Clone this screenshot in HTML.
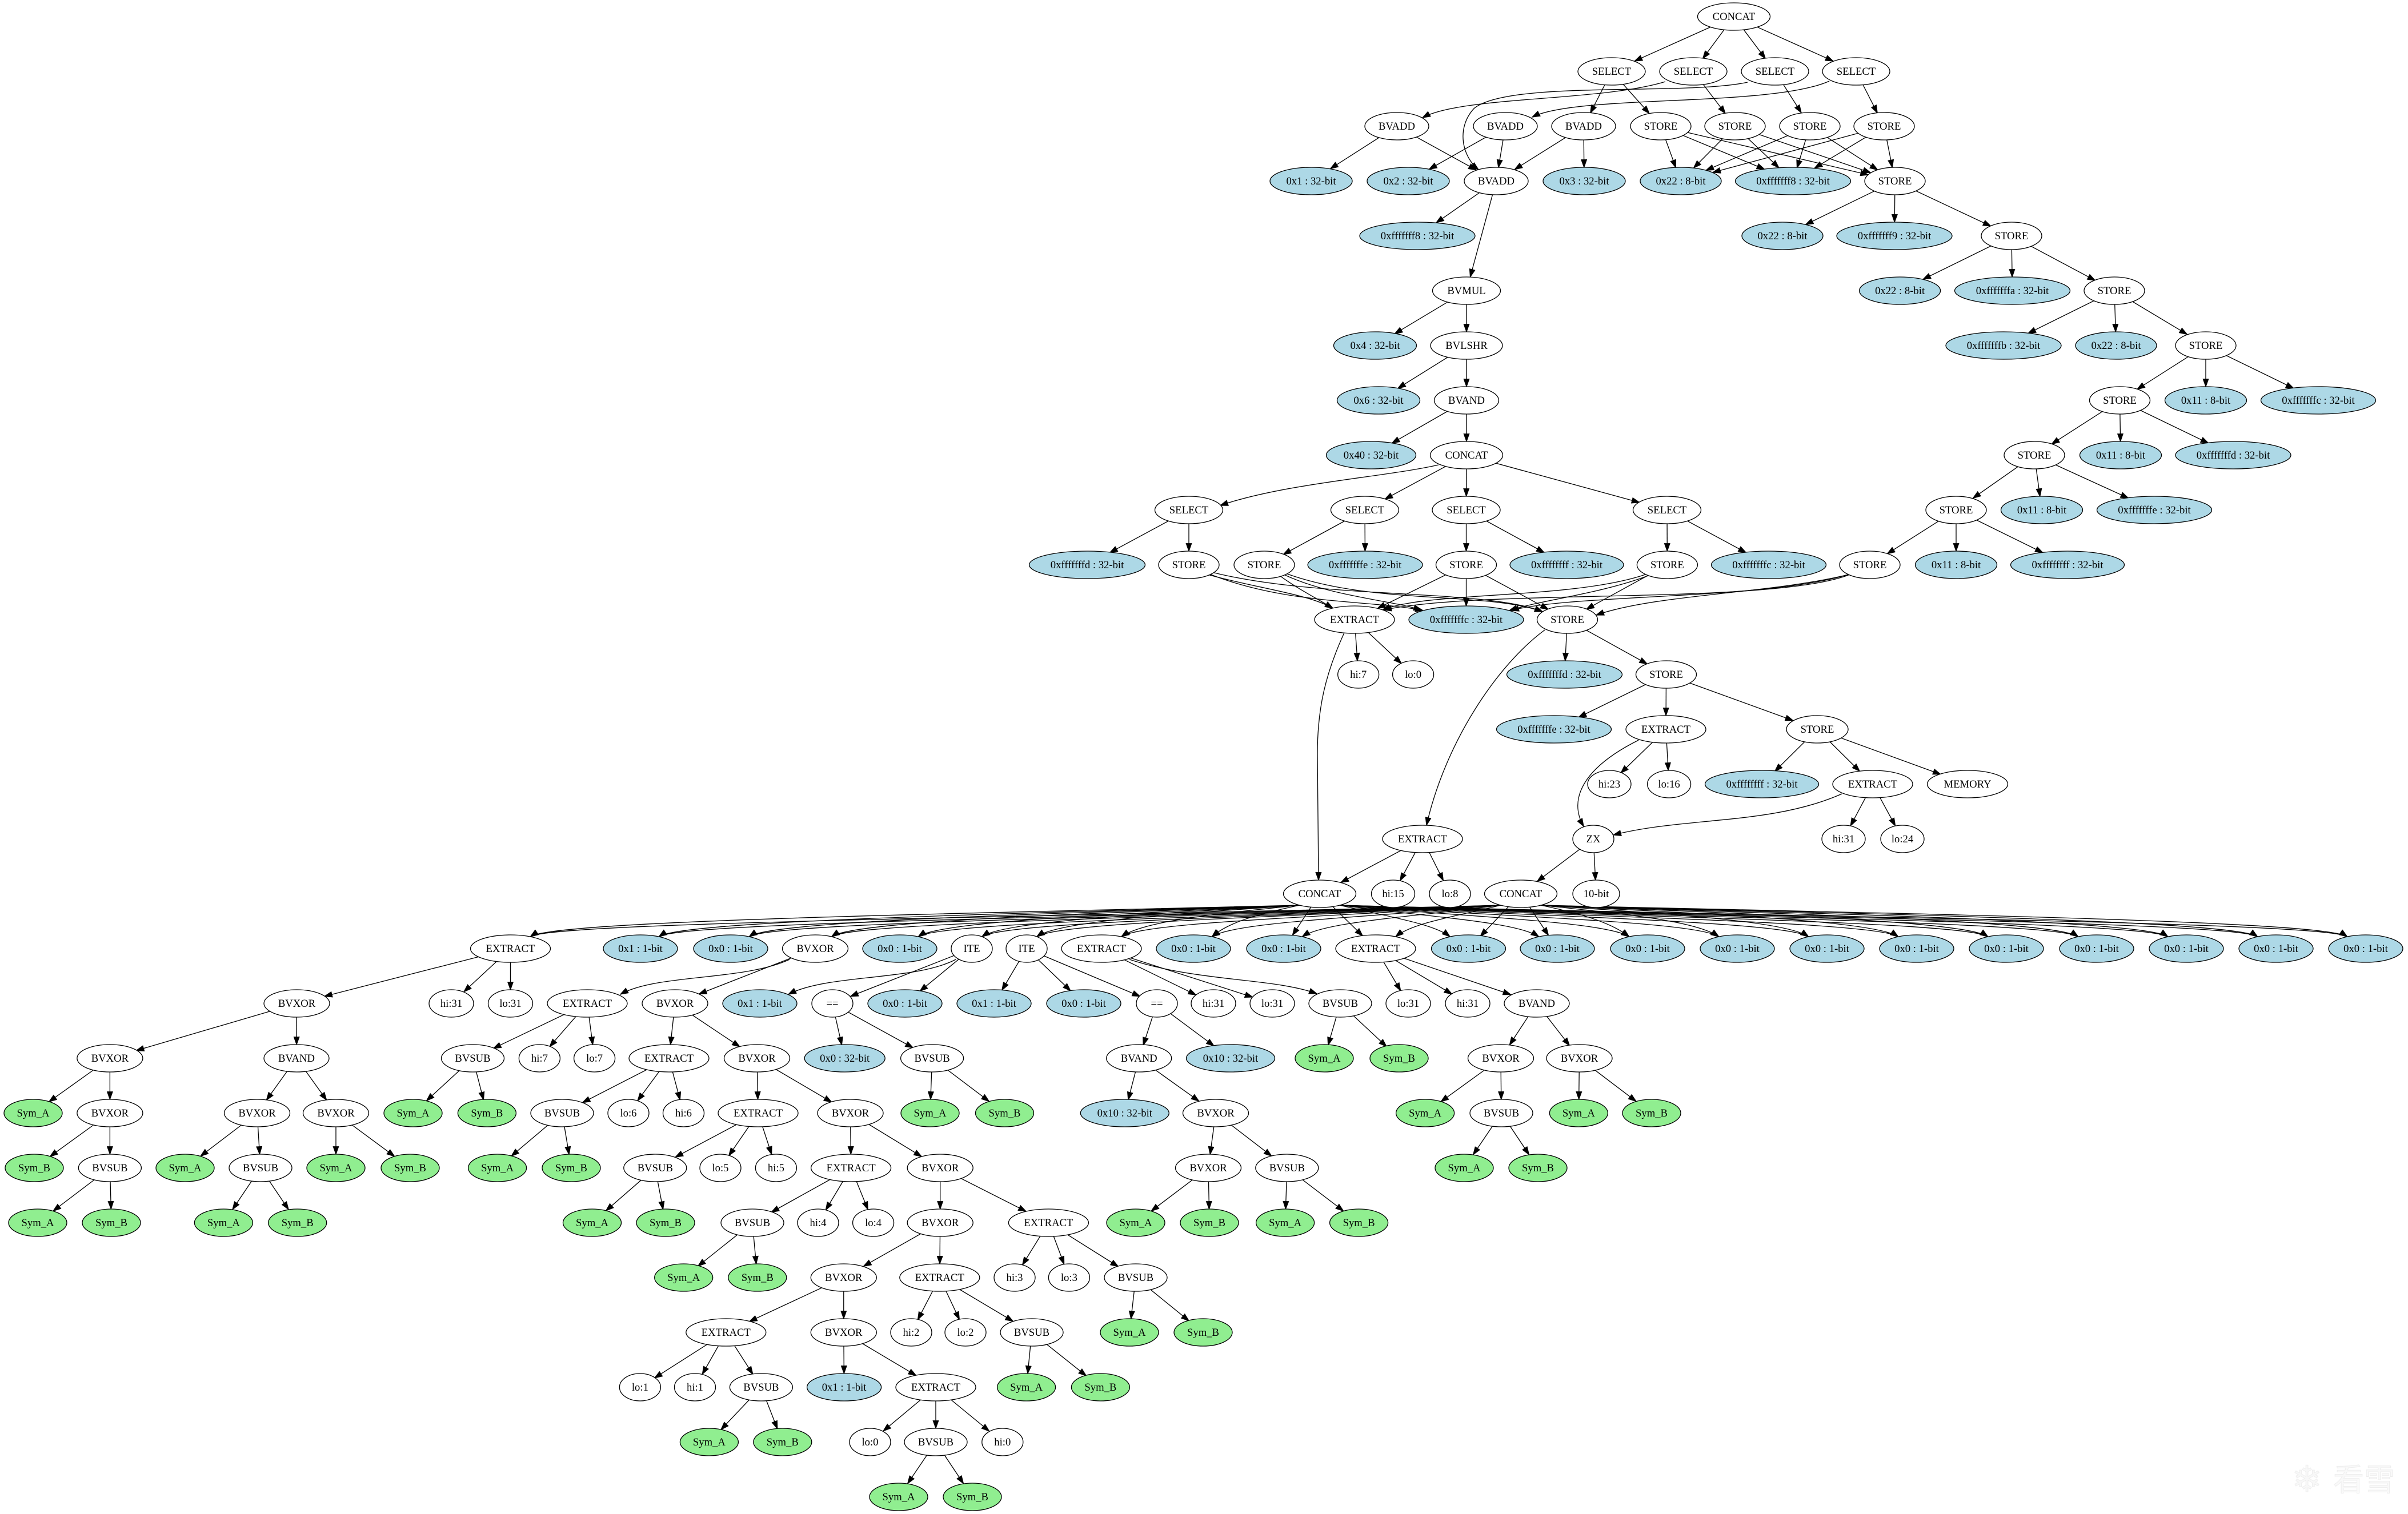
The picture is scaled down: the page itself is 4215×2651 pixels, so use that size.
<!DOCTYPE html>
<html><head><meta charset="utf-8"><title>Expression DAG</title>
<style>
html,body{margin:0;padding:0;background:#fff;overflow:hidden}
svg{display:block}
.n ellipse{fill:#fff;stroke:#000;stroke-width:1.33}
.n ellipse.b{fill:#add8e6}
.n ellipse.g{fill:#90ee90}
.n text{font-family:"Liberation Serif","Times New Roman",serif;font-size:18.67px;text-anchor:middle;fill:#000}
.e{fill:none;stroke:#000;stroke-width:1.33}
</style></head>
<body>
<svg xmlns="http://www.w3.org/2000/svg" width="4215" height="2651" viewBox="0 0 4215 2651">
<defs>
<marker id="m0" markerUnits="userSpaceOnUse" markerWidth="14" markerHeight="10" viewBox="0 -5 14 10" refX="13.3" refY="0" orient="auto" overflow="visible"><path d="M0,-4.7L13.3,0L0,4.7z" fill="#000" stroke="#000" stroke-width="1.2"/></marker>
<marker id="m24" markerUnits="userSpaceOnUse" markerWidth="14" markerHeight="10" viewBox="0 -5 14 10" refX="37.3" refY="0" orient="auto" overflow="visible"><path d="M0,-4.7L13.3,0L0,4.7z" fill="#000" stroke="#000" stroke-width="1.2"/></marker>
<marker id="m25" markerUnits="userSpaceOnUse" markerWidth="14" markerHeight="10" viewBox="0 -5 14 10" refX="38.3" refY="0" orient="auto" overflow="visible"><path d="M0,-4.7L13.3,0L0,4.7z" fill="#000" stroke="#000" stroke-width="1.2"/></marker>
<marker id="m26" markerUnits="userSpaceOnUse" markerWidth="14" markerHeight="10" viewBox="0 -5 14 10" refX="39.3" refY="0" orient="auto" overflow="visible"><path d="M0,-4.7L13.3,0L0,4.7z" fill="#000" stroke="#000" stroke-width="1.2"/></marker>
<marker id="m27" markerUnits="userSpaceOnUse" markerWidth="14" markerHeight="10" viewBox="0 -5 14 10" refX="40.3" refY="0" orient="auto" overflow="visible"><path d="M0,-4.7L13.3,0L0,4.7z" fill="#000" stroke="#000" stroke-width="1.2"/></marker>
<marker id="m28" markerUnits="userSpaceOnUse" markerWidth="14" markerHeight="10" viewBox="0 -5 14 10" refX="41.3" refY="0" orient="auto" overflow="visible"><path d="M0,-4.7L13.3,0L0,4.7z" fill="#000" stroke="#000" stroke-width="1.2"/></marker>
<marker id="m30" markerUnits="userSpaceOnUse" markerWidth="14" markerHeight="10" viewBox="0 -5 14 10" refX="43.3" refY="0" orient="auto" overflow="visible"><path d="M0,-4.7L13.3,0L0,4.7z" fill="#000" stroke="#000" stroke-width="1.2"/></marker>
<marker id="m32" markerUnits="userSpaceOnUse" markerWidth="14" markerHeight="10" viewBox="0 -5 14 10" refX="45.3" refY="0" orient="auto" overflow="visible"><path d="M0,-4.7L13.3,0L0,4.7z" fill="#000" stroke="#000" stroke-width="1.2"/></marker>
<marker id="m34" markerUnits="userSpaceOnUse" markerWidth="14" markerHeight="10" viewBox="0 -5 14 10" refX="47.3" refY="0" orient="auto" overflow="visible"><path d="M0,-4.7L13.3,0L0,4.7z" fill="#000" stroke="#000" stroke-width="1.2"/></marker>
<marker id="m36" markerUnits="userSpaceOnUse" markerWidth="14" markerHeight="10" viewBox="0 -5 14 10" refX="49.3" refY="0" orient="auto" overflow="visible"><path d="M0,-4.7L13.3,0L0,4.7z" fill="#000" stroke="#000" stroke-width="1.2"/></marker>
<marker id="m38" markerUnits="userSpaceOnUse" markerWidth="14" markerHeight="10" viewBox="0 -5 14 10" refX="51.3" refY="0" orient="auto" overflow="visible"><path d="M0,-4.7L13.3,0L0,4.7z" fill="#000" stroke="#000" stroke-width="1.2"/></marker>
<marker id="m40" markerUnits="userSpaceOnUse" markerWidth="14" markerHeight="10" viewBox="0 -5 14 10" refX="53.3" refY="0" orient="auto" overflow="visible"><path d="M0,-4.7L13.3,0L0,4.7z" fill="#000" stroke="#000" stroke-width="1.2"/></marker>
<marker id="m42" markerUnits="userSpaceOnUse" markerWidth="14" markerHeight="10" viewBox="0 -5 14 10" refX="55.3" refY="0" orient="auto" overflow="visible"><path d="M0,-4.7L13.3,0L0,4.7z" fill="#000" stroke="#000" stroke-width="1.2"/></marker>
<marker id="m44" markerUnits="userSpaceOnUse" markerWidth="14" markerHeight="10" viewBox="0 -5 14 10" refX="57.3" refY="0" orient="auto" overflow="visible"><path d="M0,-4.7L13.3,0L0,4.7z" fill="#000" stroke="#000" stroke-width="1.2"/></marker>
<marker id="m45" markerUnits="userSpaceOnUse" markerWidth="14" markerHeight="10" viewBox="0 -5 14 10" refX="58.3" refY="0" orient="auto" overflow="visible"><path d="M0,-4.7L13.3,0L0,4.7z" fill="#000" stroke="#000" stroke-width="1.2"/></marker>
<marker id="m48" markerUnits="userSpaceOnUse" markerWidth="14" markerHeight="10" viewBox="0 -5 14 10" refX="61.3" refY="0" orient="auto" overflow="visible"><path d="M0,-4.7L13.3,0L0,4.7z" fill="#000" stroke="#000" stroke-width="1.2"/></marker>
<marker id="m50" markerUnits="userSpaceOnUse" markerWidth="14" markerHeight="10" viewBox="0 -5 14 10" refX="63.3" refY="0" orient="auto" overflow="visible"><path d="M0,-4.7L13.3,0L0,4.7z" fill="#000" stroke="#000" stroke-width="1.2"/></marker>
<marker id="m54" markerUnits="userSpaceOnUse" markerWidth="14" markerHeight="10" viewBox="0 -5 14 10" refX="67.3" refY="0" orient="auto" overflow="visible"><path d="M0,-4.7L13.3,0L0,4.7z" fill="#000" stroke="#000" stroke-width="1.2"/></marker>
<marker id="m58" markerUnits="userSpaceOnUse" markerWidth="14" markerHeight="10" viewBox="0 -5 14 10" refX="71.3" refY="0" orient="auto" overflow="visible"><path d="M0,-4.7L13.3,0L0,4.7z" fill="#000" stroke="#000" stroke-width="1.2"/></marker>
</defs>

<!-- ================= EDGES ================= -->
<g>
<!-- rank 0-1 -->
<path class="e" d="M3035,29 L2821,125" marker-end="url(#m44)"/>
<path class="e" d="M3035,29 L2964,125" marker-end="url(#m28)"/>
<path class="e" d="M3035,29 L3107,125" marker-end="url(#m28)"/>
<path class="e" d="M3035,29 L3249,125" marker-end="url(#m44)"/>
<!-- rank 1-2 -->
<path class="e" d="M2821,125 L2772,221" marker-end="url(#m26)"/>
<path class="e" d="M2821,125 L2907,221" marker-end="url(#m30)"/>
<path class="e" d="M2915,143 C2800,178 2560,168 2490,206" marker-end="url(#m0)"/>
<path class="e" d="M2964,125 L3037,221" marker-end="url(#m28)"/>
<path class="e" d="M3059,144 C2950,168 2640,140 2580,190 C2548,225 2560,275 2588,297" marker-end="url(#m0)"/>
<path class="e" d="M3107,125 L3168,221" marker-end="url(#m28)"/>
<path class="e" d="M3202,142 C3100,188 2760,165 2682,205" marker-end="url(#m0)"/>
<path class="e" d="M3249,125 L3298,221" marker-end="url(#m26)"/>
<!-- rank 2-3 -->
<path class="e" d="M2445,221 L2295,317" marker-end="url(#m40)"/>
<path class="e" d="M2445,221 L2619,317" marker-end="url(#m40)"/>
<path class="e" d="M2635,221 L2465,317" marker-end="url(#m42)"/>
<path class="e" d="M2635,221 L2619,317" marker-end="url(#m24)"/>
<path class="e" d="M2772,221 L2619,317" marker-end="url(#m38)"/>
<path class="e" d="M2772,221 L2773,317" marker-end="url(#m24)"/>
<path class="e" d="M2907,221 L2942,317" marker-end="url(#m25)"/>
<path class="e" d="M2907,221 L3138.5,317" marker-end="url(#m54)"/>
<path class="e" d="M2907,221 L3317,317" marker-end="url(#m48)"/>
<path class="e" d="M3037,221 L2942,317" marker-end="url(#m32)"/>
<path class="e" d="M3037,221 L3138.5,317" marker-end="url(#m34)"/>
<path class="e" d="M3037,221 L3317,317" marker-end="url(#m45)"/>
<path class="e" d="M3168,221 L2942,317" marker-end="url(#m48)"/>
<path class="e" d="M3168,221 L3138.5,317" marker-end="url(#m24)"/>
<path class="e" d="M3168,221 L3317,317" marker-end="url(#m36)"/>
<path class="e" d="M3298,221 L2942,317" marker-end="url(#m58)"/>
<path class="e" d="M3298,221 L3138.5,317" marker-end="url(#m44)"/>
<path class="e" d="M3298,221 L3317,317" marker-end="url(#m24)"/>
<!-- rank 3+ center column -->
<path class="e" d="M2619,317 L2481,413" marker-end="url(#m40)"/>
<path class="e" d="M2619,317 L2567,509" marker-end="url(#m25)"/>
<path class="e" d="M2567,509 L2407,605" marker-end="url(#m40)"/>
<path class="e" d="M2567,509 L2567,605" marker-end="url(#m24)"/>
<path class="e" d="M2567,605 L2413,701" marker-end="url(#m40)"/>
<path class="e" d="M2567,605 L2567,701" marker-end="url(#m24)"/>
<path class="e" d="M2567,701 L2400,797" marker-end="url(#m42)"/>
<path class="e" d="M2567,701 L2567,797" marker-end="url(#m24)"/>
<!-- right STORE chain -->
<path class="e" d="M3317,317 L3120,413" marker-end="url(#m45)"/>
<path class="e" d="M3317,317 L3316,413" marker-end="url(#m24)"/>
<path class="e" d="M3317,317 L3521,413" marker-end="url(#m40)"/>
<path class="e" d="M3521,413 L3325.6,509" marker-end="url(#m45)"/>
<path class="e" d="M3521,413 L3522.5,509" marker-end="url(#m24)"/>
<path class="e" d="M3521,413 L3701,509" marker-end="url(#m38)"/>
<path class="e" d="M3701,509 L3507,605" marker-end="url(#m48)"/>
<path class="e" d="M3701,509 L3704,605" marker-end="url(#m24)"/>
<path class="e" d="M3701,509 L3861,605" marker-end="url(#m38)"/>
<path class="e" d="M3861,605 L3710.5,701" marker-end="url(#m36)"/>
<path class="e" d="M3861,605 L3861,701" marker-end="url(#m24)"/>
<path class="e" d="M3861,605 L4058,701" marker-end="url(#m48)"/>
<path class="e" d="M3710.5,701 L3561,797" marker-end="url(#m36)"/>
<path class="e" d="M3710.5,701 L3712,797" marker-end="url(#m24)"/>
<path class="e" d="M3710.5,701 L3909,797" marker-end="url(#m48)"/>
<path class="e" d="M3561,797 L3424,893" marker-end="url(#m36)"/>
<path class="e" d="M3561,797 L3574,893" marker-end="url(#m24)"/>
<path class="e" d="M3561,797 L3771,893" marker-end="url(#m50)"/>
<path class="e" d="M3424,893 L3273,989" marker-end="url(#m36)"/>
<path class="e" d="M3424,893 L3424,989" marker-end="url(#m24)"/>
<path class="e" d="M3424,893 L3619,989" marker-end="url(#m48)"/>
<!-- CONCAT r8 -> SELECTs -->
<path class="e" d="M2518,814 C2420,836 2250,846 2136,885" marker-end="url(#m0)"/>
<path class="e" d="M2567,797 L2389,893" marker-end="url(#m40)"/>
<path class="e" d="M2567,797 L2566.5,893" marker-end="url(#m24)"/>
<path class="e" d="M2567,797 L2918,893" marker-end="url(#m50)"/>
<!-- SELECT r9 -> r10 -->
<path class="e" d="M2081,893 L1903,989" marker-end="url(#m45)"/>
<path class="e" d="M2081,893 L2081,989" marker-end="url(#m24)"/>
<path class="e" d="M2389,893 L2213,989" marker-end="url(#m38)"/>
<path class="e" d="M2389,893 L2389.6,989" marker-end="url(#m24)"/>
<path class="e" d="M2566.5,893 L2566.5,989" marker-end="url(#m24)"/>
<path class="e" d="M2566.5,893 L2742.5,989" marker-end="url(#m45)"/>
<path class="e" d="M2918,893 L2918.4,989" marker-end="url(#m24)"/>
<path class="e" d="M2918,893 L3096,989" marker-end="url(#m45)"/>
<!-- STORE r10 -> r11 -->
<path class="e" d="M2110,1005 C2200,1030 2290,1040 2333,1065" marker-end="url(#m0)"/>
<path class="e" d="M2112,1003 C2250,1060 2400,1050 2491,1069" marker-end="url(#m0)"/>
<path class="e" d="M2114,1000 C2300,1050 2600,1030 2700,1071" marker-end="url(#m0)"/>
<path class="e" d="M2240,1008 C2270,1030 2300,1045 2333,1065" marker-end="url(#m0)"/>
<path class="e" d="M2245,1005 C2330,1045 2430,1050 2488,1068" marker-end="url(#m0)"/>
<path class="e" d="M2248,1003 C2400,1060 2600,1035 2700,1071" marker-end="url(#m0)"/>
<path class="e" d="M2566.5,989 L2371,1085" marker-end="url(#m45)"/>
<path class="e" d="M2566.5,989 L2566.5,1085" marker-end="url(#m24)"/>
<path class="e" d="M2566.5,989 L2743.5,1085" marker-end="url(#m38)"/>
<path class="e" d="M2880,1006 C2750,1050 2500,1035 2420,1068" marker-end="url(#m0)"/>
<path class="e" d="M2885,1008 C2800,1040 2700,1050 2642,1069" marker-end="url(#m0)"/>
<path class="e" d="M2918.4,989 L2743.5,1085" marker-end="url(#m38)"/>
<path class="e" d="M3238,1006 C3100,1060 2600,1030 2422,1068" marker-end="url(#m0)"/>
<path class="e" d="M3238,1005 C3100,1050 2750,1040 2645,1069" marker-end="url(#m0)"/>
<path class="e" d="M3240,1005 C3100,1040 2900,1040 2794,1077" marker-end="url(#m0)"/>
<!-- r11 -> -->
<path class="e" d="M2371,1085 L2377.7,1181" marker-end="url(#m24)"/>
<path class="e" d="M2371,1085 L2473.6,1181" marker-end="url(#m28)"/>
<path class="e" d="M2353,1108 C2320,1180 2306,1240 2306,1320 L2308,1541" marker-end="url(#m0)"/>
<path class="e" d="M2743.5,1085 L2738.5,1181" marker-end="url(#m24)"/>
<path class="e" d="M2743.5,1085 L2916.5,1181" marker-end="url(#m38)"/>
<path class="e" d="M2704,1103 C2620,1165 2530,1300 2497,1445" marker-end="url(#m0)"/>
<path class="e" d="M2916.5,1181 L2720,1277" marker-end="url(#m48)"/>
<path class="e" d="M2916.5,1181 L2916,1277" marker-end="url(#m24)"/>
<path class="e" d="M2916.5,1181 L3181,1277" marker-end="url(#m45)"/>
<path class="e" d="M2868,1296 C2770,1345 2745,1400 2772,1447" marker-end="url(#m0)"/>
<path class="e" d="M2916,1277 L2817,1373" marker-end="url(#m28)"/>
<path class="e" d="M2916,1277 L2921.6,1373" marker-end="url(#m24)"/>
<path class="e" d="M3181,1277 L3084,1373" marker-end="url(#m32)"/>
<path class="e" d="M3181,1277 L3278,1373" marker-end="url(#m32)"/>
<path class="e" d="M3181,1277 L3444,1373" marker-end="url(#m50)"/>
<path class="e" d="M3224,1390 C3100,1445 2950,1430 2824,1462" marker-end="url(#m0)"/>
<path class="e" d="M3278,1373 L3227,1469" marker-end="url(#m26)"/>
<path class="e" d="M3278,1373 L3330,1469" marker-end="url(#m26)"/>
<path class="e" d="M2490,1469 L2310,1565" marker-end="url(#m42)"/>
<path class="e" d="M2490,1469 L2438.5,1565" marker-end="url(#m26)"/>
<path class="e" d="M2490,1469 L2538,1565" marker-end="url(#m26)"/>
<path class="e" d="M2789,1469 L2662,1565" marker-end="url(#m36)"/>
<path class="e" d="M2789,1469 L2794,1565" marker-end="url(#m24)"/>
<!-- CONCAT(2310) fan -->
<path class="e" d="M2275,1585 C1666,1600 968.5,1612 928.5,1640" marker-end="url(#m0)"/>
<path class="e" d="M2275,1585 C1768,1600 1193.5,1612 1153.5,1640" marker-end="url(#m0)"/>
<path class="e" d="M2275,1585 C1839,1600 1351.5,1612 1311.5,1640" marker-end="url(#m0)"/>
<path class="e" d="M2275,1585 C1904,1600 1495.8,1612 1455.8,1640" marker-end="url(#m0)"/>
<path class="e" d="M2275,1585 C1972,1600 1647.5,1612 1607.5,1640" marker-end="url(#m0)"/>
<path class="e" d="M2275,1585 C2022,1600 1759,1612 1719,1640" marker-end="url(#m0)"/>
<path class="e" d="M2275,1585 C2065,1600 1855,1612 1815,1640" marker-end="url(#m0)"/>
<path class="e" d="M2275,1585 C2132,1600 2003,1612 1963,1640" marker-end="url(#m0)"/>
<path class="e" d="M2275,1585 C2203,1600 2150,1615 2121.5,1640" marker-end="url(#m0)"/>
<path class="e" d="M2310,1565 L2247,1661" marker-end="url(#m28)"/>
<path class="e" d="M2310,1565 L2408,1661" marker-end="url(#m32)"/>
<path class="e" d="M2345,1585 C2434.6,1606 2510,1618 2538,1640" marker-end="url(#m0)"/>
<path class="e" d="M2345,1585 C2504.6,1606 2653.5,1614 2693.5,1640" marker-end="url(#m0)"/>
<path class="e" d="M2345,1585 C2575.7,1606 2811.5,1614 2851.5,1640" marker-end="url(#m0)"/>
<path class="e" d="M2345,1585 C2646.3,1606 2968.5,1614 3008.5,1640" marker-end="url(#m0)"/>
<path class="e" d="M2345,1585 C2717,1606 3125.5,1614 3165.5,1640" marker-end="url(#m0)"/>
<path class="e" d="M2345,1585 C2787.6,1606 3282.5,1614 3322.5,1640" marker-end="url(#m0)"/>
<path class="e" d="M2345,1585 C2858.3,1606 3439.5,1614 3479.5,1640" marker-end="url(#m0)"/>
<path class="e" d="M2345,1585 C2929.4,1606 3597.5,1614 3637.5,1640" marker-end="url(#m0)"/>
<path class="e" d="M2345,1585 C3000,1606 3754.5,1614 3794.5,1640" marker-end="url(#m0)"/>
<path class="e" d="M2345,1585 C3070.7,1606 3911.5,1614 3951.5,1640" marker-end="url(#m0)"/>
<path class="e" d="M2345,1585 C3141.3,1606 4068.5,1614 4108.5,1640" marker-end="url(#m0)"/>
<!-- CONCAT(2662) fan -->
<path class="e" d="M2627,1585 C1860,1606 968.5,1614 928.5,1640" marker-end="url(#m0)"/>
<path class="e" d="M2627,1585 C1961,1606 1193.5,1614 1153.5,1640" marker-end="url(#m0)"/>
<path class="e" d="M2627,1585 C2032,1606 1351.5,1614 1311.5,1640" marker-end="url(#m0)"/>
<path class="e" d="M2627,1585 C2097,1606 1495.8,1614 1455.8,1640" marker-end="url(#m0)"/>
<path class="e" d="M2627,1585 C2165.5,1606 1647.5,1614 1607.5,1640" marker-end="url(#m0)"/>
<path class="e" d="M2627,1585 C2215.7,1606 1759,1614 1719,1640" marker-end="url(#m0)"/>
<path class="e" d="M2627,1585 C2259,1606 1855,1614 1815,1640" marker-end="url(#m0)"/>
<path class="e" d="M2627,1585 C2325.5,1606 2003,1614 1963,1640" marker-end="url(#m0)"/>
<path class="e" d="M2627,1585 C2396.8,1606 2161.5,1614 2121.5,1640" marker-end="url(#m0)"/>
<path class="e" d="M2627,1585 C2467.9,1606 2319.5,1614 2279.5,1640" marker-end="url(#m0)"/>
<path class="e" d="M2627,1585 C2541.5,1606 2473,1616 2443,1640" marker-end="url(#m0)"/>
<path class="e" d="M2662,1565 L2570.5,1661" marker-end="url(#m30)"/>
<path class="e" d="M2662,1565 L2726,1661" marker-end="url(#m28)"/>
<path class="e" d="M2697,1585 C2769,1600 2821.5,1616 2851.5,1640" marker-end="url(#m0)"/>
<path class="e" d="M2697,1585 C2840,1600 2968.5,1612 3008.5,1640" marker-end="url(#m0)"/>
<path class="e" d="M2697,1585 C2910.6,1600 3125.5,1612 3165.5,1640" marker-end="url(#m0)"/>
<path class="e" d="M2697,1585 C2981.2,1600 3282.5,1612 3322.5,1640" marker-end="url(#m0)"/>
<path class="e" d="M2697,1585 C3052,1600 3439.5,1612 3479.5,1640" marker-end="url(#m0)"/>
<path class="e" d="M2697,1585 C3123,1600 3597.5,1612 3637.5,1640" marker-end="url(#m0)"/>
<path class="e" d="M2697,1585 C3193.6,1600 3754.5,1612 3794.5,1640" marker-end="url(#m0)"/>
<path class="e" d="M2697,1585 C3264.3,1600 3911.5,1612 3951.5,1640" marker-end="url(#m0)"/>
<path class="e" d="M2697,1585 C3335,1600 4068.5,1612 4108.5,1640" marker-end="url(#m0)"/>
<!-- rank 17 -> 18 -->
<path class="e" d="M893.5,1661 L519.5,1757" marker-end="url(#m50)"/>
<path class="e" d="M893.5,1661 L790,1757" marker-end="url(#m30)"/>
<path class="e" d="M893.5,1661 L893.5,1757" marker-end="url(#m24)"/>
<path class="e" d="M1382,1680 C1300,1718 1150,1705 1086,1741" marker-end="url(#m0)"/>
<path class="e" d="M1427,1661 L1181.5,1757" marker-end="url(#m45)"/>
<path class="e" d="M1673,1680 C1600,1718 1450,1705 1380,1741" marker-end="url(#m0)"/>
<path class="e" d="M1701,1661 L1457,1757" marker-end="url(#m34)"/>
<path class="e" d="M1701,1661 L1584,1757" marker-end="url(#m34)"/>
<path class="e" d="M1797,1661 L1740,1757" marker-end="url(#m27)"/>
<path class="e" d="M1797,1661 L1897,1757" marker-end="url(#m32)"/>
<path class="e" d="M1797,1661 L2025,1757" marker-end="url(#m32)"/>
<path class="e" d="M1928,1661 L2124,1757" marker-end="url(#m34)"/>
<path class="e" d="M1928,1661 L2227,1757" marker-end="url(#m36)"/>
<path class="e" d="M1977,1680 C2100,1720 2230,1712 2305,1740" marker-end="url(#m0)"/>
<path class="e" d="M2408,1661 L2465,1757" marker-end="url(#m26)"/>
<path class="e" d="M2408,1661 L2569,1757" marker-end="url(#m32)"/>
<path class="e" d="M2408,1661 L2690,1757" marker-end="url(#m48)"/>
<!-- rank 18 -> 19 -->
<path class="e" d="M519.5,1757 L192.4,1853" marker-end="url(#m48)"/>
<path class="e" d="M519.5,1757 L519,1853" marker-end="url(#m24)"/>
<path class="e" d="M1028,1757 L827.5,1853" marker-end="url(#m40)"/>
<path class="e" d="M1028,1757 L944.4,1853" marker-end="url(#m27)"/>
<path class="e" d="M1028,1757 L1040.6,1853" marker-end="url(#m24)"/>
<path class="e" d="M1181.5,1757 L1171,1853" marker-end="url(#m24)"/>
<path class="e" d="M1181.5,1757 L1325,1853" marker-end="url(#m36)"/>
<path class="e" d="M1457,1757 L1478.7,1853" marker-end="url(#m24)"/>
<path class="e" d="M1457,1757 L1631.6,1853" marker-end="url(#m38)"/>
<path class="e" d="M2025,1757 L1993.7,1853" marker-end="url(#m24)"/>
<path class="e" d="M2025,1757 L2154,1853" marker-end="url(#m36)"/>
<path class="e" d="M2346,1757 L2318,1853" marker-end="url(#m24)"/>
<path class="e" d="M2346,1757 L2449,1853" marker-end="url(#m30)"/>
<path class="e" d="M2690,1757 L2627,1853" marker-end="url(#m28)"/>
<path class="e" d="M2690,1757 L2764.5,1853" marker-end="url(#m28)"/>
<!-- rank 19 -> 20 -->
<path class="e" d="M192.4,1853 L58,1949" marker-end="url(#m34)"/>
<path class="e" d="M192.4,1853 L192.4,1949" marker-end="url(#m24)"/>
<path class="e" d="M519,1853 L450,1949" marker-end="url(#m28)"/>
<path class="e" d="M519,1853 L588,1949" marker-end="url(#m28)"/>
<path class="e" d="M827.5,1853 L723,1949" marker-end="url(#m32)"/>
<path class="e" d="M827.5,1853 L852.4,1949" marker-end="url(#m24)"/>
<path class="e" d="M1171,1853 L984,1949" marker-end="url(#m40)"/>
<path class="e" d="M1171,1853 L1100,1949" marker-end="url(#m27)"/>
<path class="e" d="M1171,1853 L1196.5,1949" marker-end="url(#m24)"/>
<path class="e" d="M1325,1853 L1327,1949" marker-end="url(#m24)"/>
<path class="e" d="M1325,1853 L1488.5,1949" marker-end="url(#m38)"/>
<path class="e" d="M1631.6,1853 L1628,1949" marker-end="url(#m24)"/>
<path class="e" d="M1631.6,1853 L1758.5,1949" marker-end="url(#m34)"/>
<path class="e" d="M1993.7,1853 L1968.8,1949" marker-end="url(#m24)"/>
<path class="e" d="M1993.7,1853 L2128,1949" marker-end="url(#m36)"/>
<path class="e" d="M2627,1853 L2494.6,1949" marker-end="url(#m34)"/>
<path class="e" d="M2627,1853 L2628,1949" marker-end="url(#m24)"/>
<path class="e" d="M2764.5,1853 L2763.4,1949" marker-end="url(#m24)"/>
<path class="e" d="M2764.5,1853 L2891,1949" marker-end="url(#m34)"/>
<!-- rank 20 -> 21 -->
<path class="e" d="M192.4,1949 L60,2045" marker-end="url(#m34)"/>
<path class="e" d="M192.4,1949 L192.4,2045" marker-end="url(#m24)"/>
<path class="e" d="M450,1949 L324,2045" marker-end="url(#m34)"/>
<path class="e" d="M450,1949 L456,2045" marker-end="url(#m24)"/>
<path class="e" d="M588,1949 L588,2045" marker-end="url(#m24)"/>
<path class="e" d="M588,1949 L718,2045" marker-end="url(#m34)"/>
<path class="e" d="M984,1949 L870.6,2045" marker-end="url(#m32)"/>
<path class="e" d="M984,1949 L1000,2045" marker-end="url(#m24)"/>
<path class="e" d="M1327,1949 L1146.8,2045" marker-end="url(#m40)"/>
<path class="e" d="M1327,1949 L1261,2045" marker-end="url(#m26)"/>
<path class="e" d="M1327,1949 L1358.4,2045" marker-end="url(#m25)"/>
<path class="e" d="M1488.5,1949 L1489.6,2045" marker-end="url(#m24)"/>
<path class="e" d="M1488.5,1949 L1645.7,2045" marker-end="url(#m38)"/>
<path class="e" d="M2128,1949 L2115,2045" marker-end="url(#m24)"/>
<path class="e" d="M2128,1949 L2252.8,2045" marker-end="url(#m34)"/>
<path class="e" d="M2628,1949 L2563,2045" marker-end="url(#m28)"/>
<path class="e" d="M2628,1949 L2692,2045" marker-end="url(#m28)"/>
<!-- rank 21 -> 22 -->
<path class="e" d="M192.4,2045 L66,2141" marker-end="url(#m34)"/>
<path class="e" d="M192.4,2045 L195,2141" marker-end="url(#m24)"/>
<path class="e" d="M456,2045 L391.4,2141" marker-end="url(#m28)"/>
<path class="e" d="M456,2045 L520.7,2141" marker-end="url(#m28)"/>
<path class="e" d="M1146.8,2045 L1036.5,2141" marker-end="url(#m32)"/>
<path class="e" d="M1146.8,2045 L1165,2141" marker-end="url(#m24)"/>
<path class="e" d="M1489.6,2045 L1317,2141" marker-end="url(#m38)"/>
<path class="e" d="M1489.6,2045 L1432,2141" marker-end="url(#m26)"/>
<path class="e" d="M1489.6,2045 L1528.6,2141" marker-end="url(#m25)"/>
<path class="e" d="M1645.7,2045 L1645.7,2141" marker-end="url(#m24)"/>
<path class="e" d="M1645.7,2045 L1835.4,2141" marker-end="url(#m44)"/>
<path class="e" d="M2115,2045 L1988,2141" marker-end="url(#m34)"/>
<path class="e" d="M2115,2045 L2117,2141" marker-end="url(#m24)"/>
<path class="e" d="M2252.8,2045 L2249.6,2141" marker-end="url(#m24)"/>
<path class="e" d="M2252.8,2045 L2378.6,2141" marker-end="url(#m34)"/>
<!-- rank 22 -> 23 -->
<path class="e" d="M1317,2141 L1196.7,2237" marker-end="url(#m32)"/>
<path class="e" d="M1317,2141 L1325.8,2237" marker-end="url(#m24)"/>
<path class="e" d="M1645.7,2141 L1476.8,2237" marker-end="url(#m40)"/>
<path class="e" d="M1645.7,2141 L1644.8,2237" marker-end="url(#m24)"/>
<path class="e" d="M1835.4,2141 L1776,2237" marker-end="url(#m26)"/>
<path class="e" d="M1835.4,2141 L1871.4,2237" marker-end="url(#m25)"/>
<path class="e" d="M1835.4,2141 L1988,2237" marker-end="url(#m36)"/>
<!-- rank 23 -> 24 -->
<path class="e" d="M1476.8,2237 L1270.8,2333" marker-end="url(#m45)"/>
<path class="e" d="M1476.8,2237 L1476.8,2333" marker-end="url(#m24)"/>
<path class="e" d="M1644.8,2237 L1595,2333" marker-end="url(#m25)"/>
<path class="e" d="M1644.8,2237 L1690,2333" marker-end="url(#m25)"/>
<path class="e" d="M1644.8,2237 L1806,2333" marker-end="url(#m38)"/>
<path class="e" d="M1988,2237 L1977,2333" marker-end="url(#m24)"/>
<path class="e" d="M1988,2237 L2106,2333" marker-end="url(#m32)"/>
<!-- rank 24 -> 25 -->
<path class="e" d="M1270.8,2333 L1120.4,2429" marker-end="url(#m30)"/>
<path class="e" d="M1270.8,2333 L1216.5,2429" marker-end="url(#m26)"/>
<path class="e" d="M1270.8,2333 L1332.4,2429" marker-end="url(#m27)"/>
<path class="e" d="M1476.8,2333 L1477.6,2429" marker-end="url(#m24)"/>
<path class="e" d="M1476.8,2333 L1638,2429" marker-end="url(#m40)"/>
<path class="e" d="M1806,2333 L1796.6,2429" marker-end="url(#m24)"/>
<path class="e" d="M1806,2333 L1926.4,2429" marker-end="url(#m32)"/>
<!-- rank 25 -> 26 -->
<path class="e" d="M1332.4,2429 L1241.4,2525" marker-end="url(#m30)"/>
<path class="e" d="M1332.4,2429 L1369.8,2525" marker-end="url(#m25)"/>
<path class="e" d="M1638,2429 L1523,2525" marker-end="url(#m30)"/>
<path class="e" d="M1638,2429 L1638,2525" marker-end="url(#m24)"/>
<path class="e" d="M1638,2429 L1754.8,2525" marker-end="url(#m30)"/>
<!-- rank 26 -> 27 -->
<path class="e" d="M1638,2525 L1573,2621" marker-end="url(#m28)"/>
<path class="e" d="M1638,2525 L1702,2621" marker-end="url(#m28)"/>
</g>

<!-- ================= NODES ================= -->
<g class="n">
<!-- r0 -->
<ellipse cx="3035" cy="29" rx="63.5" ry="24"/><text x="3035" y="35">CONCAT</text>
<!-- r1 -->
<ellipse cx="2821" cy="125" rx="59" ry="24"/><text x="2821" y="131">SELECT</text>
<ellipse cx="2964" cy="125" rx="59" ry="24"/><text x="2964" y="131">SELECT</text>
<ellipse cx="3107" cy="125" rx="59" ry="24"/><text x="3107" y="131">SELECT</text>
<ellipse cx="3249" cy="125" rx="59" ry="24"/><text x="3249" y="131">SELECT</text>
<!-- r2 -->
<ellipse cx="2445" cy="221" rx="56" ry="24"/><text x="2445" y="227">BVADD</text>
<ellipse cx="2635" cy="221" rx="56" ry="24"/><text x="2635" y="227">BVADD</text>
<ellipse cx="2772" cy="221" rx="56" ry="24"/><text x="2772" y="227">BVADD</text>
<ellipse cx="2907" cy="221" rx="53" ry="24"/><text x="2907" y="227">STORE</text>
<ellipse cx="3037" cy="221" rx="53" ry="24"/><text x="3037" y="227">STORE</text>
<ellipse cx="3168" cy="221" rx="53" ry="24"/><text x="3168" y="227">STORE</text>
<ellipse cx="3298" cy="221" rx="53" ry="24"/><text x="3298" y="227">STORE</text>
<!-- r3 -->
<ellipse class="b" cx="2295" cy="317" rx="72" ry="24"/><text x="2295" y="323">0x1 : 32-bit</text>
<ellipse class="b" cx="2465" cy="317" rx="72" ry="24"/><text x="2465" y="323">0x2 : 32-bit</text>
<ellipse cx="2619" cy="317" rx="56" ry="24"/><text x="2619" y="323">BVADD</text>
<ellipse class="b" cx="2773" cy="317" rx="72" ry="24"/><text x="2773" y="323">0x3 : 32-bit</text>
<ellipse class="b" cx="2942" cy="317" rx="71" ry="24"/><text x="2942" y="323">0x22 : 8-bit</text>
<ellipse class="b" cx="3138.5" cy="317" rx="101" ry="24"/><text x="3138.5" y="323">0xfffffff8 : 32-bit</text>
<ellipse cx="3317" cy="317" rx="53" ry="24"/><text x="3317" y="323">STORE</text>
<!-- r4 -->
<ellipse class="b" cx="2481" cy="413" rx="101" ry="24"/><text x="2481" y="419">0xfffffff8 : 32-bit</text>
<ellipse class="b" cx="3120" cy="413" rx="71" ry="24"/><text x="3120" y="419">0x22 : 8-bit</text>
<ellipse class="b" cx="3316" cy="413" rx="101" ry="24"/><text x="3316" y="419">0xfffffff9 : 32-bit</text>
<ellipse cx="3521" cy="413" rx="53" ry="24"/><text x="3521" y="419">STORE</text>
<!-- r5 -->
<ellipse cx="2567" cy="509" rx="59.5" ry="24"/><text x="2567" y="515">BVMUL</text>
<ellipse class="b" cx="3325.6" cy="509" rx="71" ry="24"/><text x="3325.6" y="515">0x22 : 8-bit</text>
<ellipse class="b" cx="3522.5" cy="509" rx="101" ry="24"/><text x="3522.5" y="515">0xfffffffa : 32-bit</text>
<ellipse cx="3701" cy="509" rx="53" ry="24"/><text x="3701" y="515">STORE</text>
<!-- r6 -->
<ellipse class="b" cx="2407" cy="605" rx="72.5" ry="24"/><text x="2407" y="611">0x4 : 32-bit</text>
<ellipse cx="2567" cy="605" rx="63" ry="24"/><text x="2567" y="611">BVLSHR</text>
<ellipse class="b" cx="3507" cy="605" rx="101" ry="24"/><text x="3507" y="611">0xfffffffb : 32-bit</text>
<ellipse class="b" cx="3704" cy="605" rx="71" ry="24"/><text x="3704" y="611">0x22 : 8-bit</text>
<ellipse cx="3861" cy="605" rx="53" ry="24"/><text x="3861" y="611">STORE</text>
<!-- r7 -->
<ellipse class="b" cx="2413" cy="701" rx="72.5" ry="24"/><text x="2413" y="707">0x6 : 32-bit</text>
<ellipse cx="2567" cy="701" rx="56.5" ry="24"/><text x="2567" y="707">BVAND</text>
<ellipse cx="3710.5" cy="701" rx="53" ry="24"/><text x="3710.5" y="707">STORE</text>
<ellipse class="b" cx="3861" cy="701" rx="71.5" ry="24"/><text x="3861" y="707">0x11 : 8-bit</text>
<ellipse class="b" cx="4058" cy="701" rx="100.5" ry="24"/><text x="4058" y="707">0xfffffffc : 32-bit</text>
<!-- r8 -->
<ellipse class="b" cx="2400" cy="797" rx="78.5" ry="24"/><text x="2400" y="803">0x40 : 32-bit</text>
<ellipse cx="2567" cy="797" rx="63.5" ry="24"/><text x="2567" y="803">CONCAT</text>
<ellipse cx="3561" cy="797" rx="53" ry="24"/><text x="3561" y="803">STORE</text>
<ellipse class="b" cx="3712" cy="797" rx="71.5" ry="24"/><text x="3712" y="803">0x11 : 8-bit</text>
<ellipse class="b" cx="3909" cy="797" rx="101" ry="24"/><text x="3909" y="803">0xfffffffd : 32-bit</text>
<!-- r9 -->
<ellipse cx="2081" cy="893" rx="59.5" ry="24"/><text x="2081" y="899">SELECT</text>
<ellipse cx="2389" cy="893" rx="59.5" ry="24"/><text x="2389" y="899">SELECT</text>
<ellipse cx="2566.5" cy="893" rx="59.5" ry="24"/><text x="2566.5" y="899">SELECT</text>
<ellipse cx="2918" cy="893" rx="59.5" ry="24"/><text x="2918" y="899">SELECT</text>
<ellipse cx="3424" cy="893" rx="53" ry="24"/><text x="3424" y="899">STORE</text>
<ellipse class="b" cx="3574" cy="893" rx="71.5" ry="24"/><text x="3574" y="899">0x11 : 8-bit</text>
<ellipse class="b" cx="3771" cy="893" rx="100.5" ry="24"/><text x="3771" y="899">0xfffffffe : 32-bit</text>
<!-- r10 -->
<ellipse class="b" cx="1903" cy="989" rx="101.5" ry="24"/><text x="1903" y="995">0xfffffffd : 32-bit</text>
<ellipse cx="2081" cy="989" rx="53" ry="24"/><text x="2081" y="995">STORE</text>
<ellipse cx="2213" cy="989" rx="53" ry="24"/><text x="2213" y="995">STORE</text>
<ellipse class="b" cx="2389.6" cy="989" rx="100.5" ry="24"/><text x="2389.6" y="995">0xfffffffe : 32-bit</text>
<ellipse cx="2566.5" cy="989" rx="53" ry="24"/><text x="2566.5" y="995">STORE</text>
<ellipse class="b" cx="2742.5" cy="989" rx="99.5" ry="24"/><text x="2742.5" y="995">0xffffffff : 32-bit</text>
<ellipse cx="2918.4" cy="989" rx="53" ry="24"/><text x="2918.4" y="995">STORE</text>
<ellipse class="b" cx="3096" cy="989" rx="100.5" ry="24"/><text x="3096" y="995">0xfffffffc : 32-bit</text>
<ellipse cx="3273" cy="989" rx="53" ry="24"/><text x="3273" y="995">STORE</text>
<ellipse class="b" cx="3424" cy="989" rx="71.5" ry="24"/><text x="3424" y="995">0x11 : 8-bit</text>
<ellipse class="b" cx="3619" cy="989" rx="99.5" ry="24"/><text x="3619" y="995">0xffffffff : 32-bit</text>
<!-- r11 -->
<ellipse cx="2371" cy="1085" rx="70" ry="24"/><text x="2371" y="1091">EXTRACT</text>
<ellipse class="b" cx="2566.5" cy="1085" rx="100.5" ry="24"/><text x="2566.5" y="1091">0xfffffffc : 32-bit</text>
<ellipse cx="2743.5" cy="1085" rx="53" ry="24"/><text x="2743.5" y="1091">STORE</text>
<!-- r12 -->
<ellipse cx="2377.7" cy="1181" rx="36" ry="24"/><text x="2377.7" y="1187">hi:7</text>
<ellipse cx="2473.6" cy="1181" rx="36" ry="24"/><text x="2473.6" y="1187">lo:0</text>
<ellipse class="b" cx="2738.5" cy="1181" rx="101" ry="24"/><text x="2738.5" y="1187">0xfffffffd : 32-bit</text>
<ellipse cx="2916.5" cy="1181" rx="53" ry="24"/><text x="2916.5" y="1187">STORE</text>
<!-- r13 -->
<ellipse class="b" cx="2720" cy="1277" rx="100.5" ry="24"/><text x="2720" y="1283">0xfffffffe : 32-bit</text>
<ellipse cx="2916" cy="1277" rx="70" ry="24"/><text x="2916" y="1283">EXTRACT</text>
<ellipse cx="3181" cy="1277" rx="54" ry="24"/><text x="3181" y="1283">STORE</text>
<!-- r14 -->
<ellipse cx="2817" cy="1373" rx="38" ry="24"/><text x="2817" y="1379">hi:23</text>
<ellipse cx="2921.6" cy="1373" rx="38" ry="24"/><text x="2921.6" y="1379">lo:16</text>
<ellipse class="b" cx="3084" cy="1373" rx="99.5" ry="24"/><text x="3084" y="1379">0xffffffff : 32-bit</text>
<ellipse cx="3278" cy="1373" rx="70" ry="24"/><text x="3278" y="1379">EXTRACT</text>
<ellipse cx="3444" cy="1373" rx="70.5" ry="24"/><text x="3444" y="1379">MEMORY</text>
<!-- r15 -->
<ellipse cx="2490" cy="1469" rx="70" ry="24"/><text x="2490" y="1475">EXTRACT</text>
<ellipse cx="2789" cy="1469" rx="36" ry="24"/><text x="2789" y="1475">ZX</text>
<ellipse cx="3227" cy="1469" rx="38" ry="24"/><text x="3227" y="1475">hi:31</text>
<ellipse cx="3330" cy="1469" rx="38" ry="24"/><text x="3330" y="1475">lo:24</text>
<!-- r16 -->
<ellipse cx="2310" cy="1565" rx="63.5" ry="24"/><text x="2310" y="1571">CONCAT</text>
<ellipse cx="2438.5" cy="1565" rx="38" ry="24"/><text x="2438.5" y="1571">hi:15</text>
<ellipse cx="2538" cy="1565" rx="36" ry="24"/><text x="2538" y="1571">lo:8</text>
<ellipse cx="2662" cy="1565" rx="63.5" ry="24"/><text x="2662" y="1571">CONCAT</text>
<ellipse cx="2794" cy="1565" rx="41" ry="24"/><text x="2794" y="1571">10-bit</text>
<!-- r17 -->
<ellipse cx="893.5" cy="1661" rx="70" ry="24"/><text x="893.5" y="1667">EXTRACT</text>
<ellipse class="b" cx="1121" cy="1661" rx="65" ry="24"/><text x="1121" y="1667">0x1 : 1-bit</text>
<ellipse class="b" cx="1279" cy="1661" rx="65" ry="24"/><text x="1279" y="1667">0x0 : 1-bit</text>
<ellipse cx="1427" cy="1661" rx="57.5" ry="24"/><text x="1427" y="1667">BVXOR</text>
<ellipse class="b" cx="1575" cy="1661" rx="65" ry="24"/><text x="1575" y="1667">0x0 : 1-bit</text>
<ellipse cx="1701" cy="1661" rx="36" ry="24"/><text x="1701" y="1667">ITE</text>
<ellipse cx="1797" cy="1661" rx="36" ry="24"/><text x="1797" y="1667">ITE</text>
<ellipse cx="1928" cy="1661" rx="70" ry="24"/><text x="1928" y="1667">EXTRACT</text>
<ellipse class="b" cx="2089" cy="1661" rx="65" ry="24"/><text x="2089" y="1667">0x0 : 1-bit</text>
<ellipse class="b" cx="2247" cy="1661" rx="65" ry="24"/><text x="2247" y="1667">0x0 : 1-bit</text>
<ellipse cx="2408" cy="1661" rx="70" ry="24"/><text x="2408" y="1667">EXTRACT</text>
<ellipse class="b" cx="2570.5" cy="1661" rx="65" ry="24"/><text x="2570.5" y="1667">0x0 : 1-bit</text>
<ellipse class="b" cx="2726" cy="1661" rx="65" ry="24"/><text x="2726" y="1667">0x0 : 1-bit</text>
<ellipse class="b" cx="2884" cy="1661" rx="65" ry="24"/><text x="2884" y="1667">0x0 : 1-bit</text>
<ellipse class="b" cx="3041" cy="1661" rx="65" ry="24"/><text x="3041" y="1667">0x0 : 1-bit</text>
<ellipse class="b" cx="3198" cy="1661" rx="65" ry="24"/><text x="3198" y="1667">0x0 : 1-bit</text>
<ellipse class="b" cx="3355" cy="1661" rx="65" ry="24"/><text x="3355" y="1667">0x0 : 1-bit</text>
<ellipse class="b" cx="3512" cy="1661" rx="65" ry="24"/><text x="3512" y="1667">0x0 : 1-bit</text>
<ellipse class="b" cx="3670" cy="1661" rx="65" ry="24"/><text x="3670" y="1667">0x0 : 1-bit</text>
<ellipse class="b" cx="3827" cy="1661" rx="65" ry="24"/><text x="3827" y="1667">0x0 : 1-bit</text>
<ellipse class="b" cx="3984" cy="1661" rx="65" ry="24"/><text x="3984" y="1667">0x0 : 1-bit</text>
<ellipse class="b" cx="4141" cy="1661" rx="65" ry="24"/><text x="4141" y="1667">0x0 : 1-bit</text>
<!-- r18 -->
<ellipse cx="519.5" cy="1757" rx="57.5" ry="24"/><text x="519.5" y="1763">BVXOR</text>
<ellipse cx="790" cy="1757" rx="39" ry="24"/><text x="790" y="1763">hi:31</text>
<ellipse cx="893.5" cy="1757" rx="39" ry="24"/><text x="893.5" y="1763">lo:31</text>
<ellipse cx="1028" cy="1757" rx="70" ry="24"/><text x="1028" y="1763">EXTRACT</text>
<ellipse cx="1181.5" cy="1757" rx="57.5" ry="24"/><text x="1181.5" y="1763">BVXOR</text>
<ellipse class="b" cx="1330" cy="1757" rx="65" ry="24"/><text x="1330" y="1763">0x1 : 1-bit</text>
<ellipse cx="1457" cy="1757" rx="36" ry="24"/><text x="1457" y="1763">==</text>
<ellipse class="b" cx="1584" cy="1757" rx="65" ry="24"/><text x="1584" y="1763">0x0 : 1-bit</text>
<ellipse class="b" cx="1740" cy="1757" rx="65" ry="24"/><text x="1740" y="1763">0x1 : 1-bit</text>
<ellipse class="b" cx="1897" cy="1757" rx="65" ry="24"/><text x="1897" y="1763">0x0 : 1-bit</text>
<ellipse cx="2025" cy="1757" rx="36" ry="24"/><text x="2025" y="1763">==</text>
<ellipse cx="2124" cy="1757" rx="39" ry="24"/><text x="2124" y="1763">hi:31</text>
<ellipse cx="2227" cy="1757" rx="39" ry="24"/><text x="2227" y="1763">lo:31</text>
<ellipse cx="2346" cy="1757" rx="55" ry="24"/><text x="2346" y="1763">BVSUB</text>
<ellipse cx="2465" cy="1757" rx="39" ry="24"/><text x="2465" y="1763">lo:31</text>
<ellipse cx="2569" cy="1757" rx="39" ry="24"/><text x="2569" y="1763">hi:31</text>
<ellipse cx="2690" cy="1757" rx="57" ry="24"/><text x="2690" y="1763">BVAND</text>
<!-- r19 -->
<ellipse cx="192.4" cy="1853" rx="57.5" ry="24"/><text x="192.4" y="1859">BVXOR</text>
<ellipse cx="519" cy="1853" rx="57" ry="24"/><text x="519" y="1859">BVAND</text>
<ellipse cx="827.5" cy="1853" rx="55" ry="24"/><text x="827.5" y="1859">BVSUB</text>
<ellipse cx="944.4" cy="1853" rx="36" ry="24"/><text x="944.4" y="1859">hi:7</text>
<ellipse cx="1040.6" cy="1853" rx="36" ry="24"/><text x="1040.6" y="1859">lo:7</text>
<ellipse cx="1171" cy="1853" rx="70" ry="24"/><text x="1171" y="1859">EXTRACT</text>
<ellipse cx="1325" cy="1853" rx="57.5" ry="24"/><text x="1325" y="1859">BVXOR</text>
<ellipse class="b" cx="1478.7" cy="1853" rx="70.5" ry="24"/><text x="1478.7" y="1859">0x0 : 32-bit</text>
<ellipse cx="1631.6" cy="1853" rx="55" ry="24"/><text x="1631.6" y="1859">BVSUB</text>
<ellipse cx="1993.7" cy="1853" rx="57" ry="24"/><text x="1993.7" y="1859">BVAND</text>
<ellipse class="b" cx="2154" cy="1853" rx="77.5" ry="24"/><text x="2154" y="1859">0x10 : 32-bit</text>
<ellipse class="g" cx="2318" cy="1853" rx="51" ry="24"/><text x="2318" y="1859">Sym_A</text>
<ellipse class="g" cx="2449" cy="1853" rx="51" ry="24"/><text x="2449" y="1859">Sym_B</text>
<ellipse cx="2627" cy="1853" rx="57.5" ry="24"/><text x="2627" y="1859">BVXOR</text>
<ellipse cx="2764.5" cy="1853" rx="57.5" ry="24"/><text x="2764.5" y="1859">BVXOR</text>
<!-- r20 -->
<ellipse class="g" cx="58" cy="1949" rx="51" ry="24"/><text x="58" y="1955">Sym_A</text>
<ellipse cx="192.4" cy="1949" rx="57.5" ry="24"/><text x="192.4" y="1955">BVXOR</text>
<ellipse cx="450" cy="1949" rx="57.5" ry="24"/><text x="450" y="1955">BVXOR</text>
<ellipse cx="588" cy="1949" rx="57.5" ry="24"/><text x="588" y="1955">BVXOR</text>
<ellipse class="g" cx="723" cy="1949" rx="51" ry="24"/><text x="723" y="1955">Sym_A</text>
<ellipse class="g" cx="852.4" cy="1949" rx="51" ry="24"/><text x="852.4" y="1955">Sym_B</text>
<ellipse cx="984" cy="1949" rx="55" ry="24"/><text x="984" y="1955">BVSUB</text>
<ellipse cx="1100" cy="1949" rx="36" ry="24"/><text x="1100" y="1955">lo:6</text>
<ellipse cx="1196.5" cy="1949" rx="36" ry="24"/><text x="1196.5" y="1955">hi:6</text>
<ellipse cx="1327" cy="1949" rx="70" ry="24"/><text x="1327" y="1955">EXTRACT</text>
<ellipse cx="1488.5" cy="1949" rx="57.5" ry="24"/><text x="1488.5" y="1955">BVXOR</text>
<ellipse class="g" cx="1628" cy="1949" rx="51" ry="24"/><text x="1628" y="1955">Sym_A</text>
<ellipse class="g" cx="1758.5" cy="1949" rx="51" ry="24"/><text x="1758.5" y="1955">Sym_B</text>
<ellipse class="b" cx="1968.8" cy="1949" rx="77.5" ry="24"/><text x="1968.8" y="1955">0x10 : 32-bit</text>
<ellipse cx="2128" cy="1949" rx="57.5" ry="24"/><text x="2128" y="1955">BVXOR</text>
<ellipse class="g" cx="2494.6" cy="1949" rx="51" ry="24"/><text x="2494.6" y="1955">Sym_A</text>
<ellipse cx="2628" cy="1949" rx="55" ry="24"/><text x="2628" y="1955">BVSUB</text>
<ellipse class="g" cx="2763.4" cy="1949" rx="51" ry="24"/><text x="2763.4" y="1955">Sym_A</text>
<ellipse class="g" cx="2891" cy="1949" rx="51" ry="24"/><text x="2891" y="1955">Sym_B</text>
<!-- r21 -->
<ellipse class="g" cx="60" cy="2045" rx="51" ry="24"/><text x="60" y="2051">Sym_B</text>
<ellipse cx="192.4" cy="2045" rx="55" ry="24"/><text x="192.4" y="2051">BVSUB</text>
<ellipse class="g" cx="324" cy="2045" rx="51" ry="24"/><text x="324" y="2051">Sym_A</text>
<ellipse cx="456" cy="2045" rx="55" ry="24"/><text x="456" y="2051">BVSUB</text>
<ellipse class="g" cx="588" cy="2045" rx="51" ry="24"/><text x="588" y="2051">Sym_A</text>
<ellipse class="g" cx="718" cy="2045" rx="51" ry="24"/><text x="718" y="2051">Sym_B</text>
<ellipse class="g" cx="870.6" cy="2045" rx="51" ry="24"/><text x="870.6" y="2051">Sym_A</text>
<ellipse class="g" cx="1000" cy="2045" rx="51" ry="24"/><text x="1000" y="2051">Sym_B</text>
<ellipse cx="1146.8" cy="2045" rx="55" ry="24"/><text x="1146.8" y="2051">BVSUB</text>
<ellipse cx="1261" cy="2045" rx="36" ry="24"/><text x="1261" y="2051">lo:5</text>
<ellipse cx="1358.4" cy="2045" rx="36" ry="24"/><text x="1358.4" y="2051">hi:5</text>
<ellipse cx="1489.6" cy="2045" rx="70" ry="24"/><text x="1489.6" y="2051">EXTRACT</text>
<ellipse cx="1645.7" cy="2045" rx="57.5" ry="24"/><text x="1645.7" y="2051">BVXOR</text>
<ellipse cx="2115" cy="2045" rx="57.5" ry="24"/><text x="2115" y="2051">BVXOR</text>
<ellipse cx="2252.8" cy="2045" rx="55" ry="24"/><text x="2252.8" y="2051">BVSUB</text>
<ellipse class="g" cx="2563" cy="2045" rx="51" ry="24"/><text x="2563" y="2051">Sym_A</text>
<ellipse class="g" cx="2692" cy="2045" rx="51" ry="24"/><text x="2692" y="2051">Sym_B</text>
<!-- r22 -->
<ellipse class="g" cx="66" cy="2141" rx="51" ry="24"/><text x="66" y="2147">Sym_A</text>
<ellipse class="g" cx="195" cy="2141" rx="51" ry="24"/><text x="195" y="2147">Sym_B</text>
<ellipse class="g" cx="391.4" cy="2141" rx="51" ry="24"/><text x="391.4" y="2147">Sym_A</text>
<ellipse class="g" cx="520.7" cy="2141" rx="51" ry="24"/><text x="520.7" y="2147">Sym_B</text>
<ellipse class="g" cx="1036.5" cy="2141" rx="51" ry="24"/><text x="1036.5" y="2147">Sym_A</text>
<ellipse class="g" cx="1165" cy="2141" rx="51" ry="24"/><text x="1165" y="2147">Sym_B</text>
<ellipse cx="1317" cy="2141" rx="55" ry="24"/><text x="1317" y="2147">BVSUB</text>
<ellipse cx="1432" cy="2141" rx="36" ry="24"/><text x="1432" y="2147">hi:4</text>
<ellipse cx="1528.6" cy="2141" rx="36" ry="24"/><text x="1528.6" y="2147">lo:4</text>
<ellipse cx="1645.7" cy="2141" rx="57.5" ry="24"/><text x="1645.7" y="2147">BVXOR</text>
<ellipse cx="1835.4" cy="2141" rx="70" ry="24"/><text x="1835.4" y="2147">EXTRACT</text>
<ellipse class="g" cx="1988" cy="2141" rx="51" ry="24"/><text x="1988" y="2147">Sym_A</text>
<ellipse class="g" cx="2117" cy="2141" rx="51" ry="24"/><text x="2117" y="2147">Sym_B</text>
<ellipse class="g" cx="2249.6" cy="2141" rx="51" ry="24"/><text x="2249.6" y="2147">Sym_A</text>
<ellipse class="g" cx="2378.6" cy="2141" rx="51" ry="24"/><text x="2378.6" y="2147">Sym_B</text>
<!-- r23 -->
<ellipse class="g" cx="1196.7" cy="2237" rx="51" ry="24"/><text x="1196.7" y="2243">Sym_A</text>
<ellipse class="g" cx="1325.8" cy="2237" rx="51" ry="24"/><text x="1325.8" y="2243">Sym_B</text>
<ellipse cx="1476.8" cy="2237" rx="57.5" ry="24"/><text x="1476.8" y="2243">BVXOR</text>
<ellipse cx="1644.8" cy="2237" rx="70" ry="24"/><text x="1644.8" y="2243">EXTRACT</text>
<ellipse cx="1776" cy="2237" rx="36" ry="24"/><text x="1776" y="2243">hi:3</text>
<ellipse cx="1871.4" cy="2237" rx="36" ry="24"/><text x="1871.4" y="2243">lo:3</text>
<ellipse cx="1988" cy="2237" rx="55" ry="24"/><text x="1988" y="2243">BVSUB</text>
<!-- r24 -->
<ellipse cx="1270.8" cy="2333" rx="70" ry="24"/><text x="1270.8" y="2339">EXTRACT</text>
<ellipse cx="1476.8" cy="2333" rx="57.5" ry="24"/><text x="1476.8" y="2339">BVXOR</text>
<ellipse cx="1595" cy="2333" rx="36" ry="24"/><text x="1595" y="2339">hi:2</text>
<ellipse cx="1690" cy="2333" rx="36" ry="24"/><text x="1690" y="2339">lo:2</text>
<ellipse cx="1806" cy="2333" rx="55" ry="24"/><text x="1806" y="2339">BVSUB</text>
<ellipse class="g" cx="1977" cy="2333" rx="51" ry="24"/><text x="1977" y="2339">Sym_A</text>
<ellipse class="g" cx="2106" cy="2333" rx="51" ry="24"/><text x="2106" y="2339">Sym_B</text>
<!-- r25 -->
<ellipse cx="1120.4" cy="2429" rx="36" ry="24"/><text x="1120.4" y="2435">lo:1</text>
<ellipse cx="1216.5" cy="2429" rx="36" ry="24"/><text x="1216.5" y="2435">hi:1</text>
<ellipse cx="1332.4" cy="2429" rx="55" ry="24"/><text x="1332.4" y="2435">BVSUB</text>
<ellipse class="b" cx="1477.6" cy="2429" rx="65" ry="24"/><text x="1477.6" y="2435">0x1 : 1-bit</text>
<ellipse cx="1638" cy="2429" rx="70" ry="24"/><text x="1638" y="2435">EXTRACT</text>
<ellipse class="g" cx="1796.6" cy="2429" rx="51" ry="24"/><text x="1796.6" y="2435">Sym_A</text>
<ellipse class="g" cx="1926.4" cy="2429" rx="51" ry="24"/><text x="1926.4" y="2435">Sym_B</text>
<!-- r26 -->
<ellipse class="g" cx="1241.4" cy="2525" rx="51" ry="24"/><text x="1241.4" y="2531">Sym_A</text>
<ellipse class="g" cx="1369.8" cy="2525" rx="51" ry="24"/><text x="1369.8" y="2531">Sym_B</text>
<ellipse cx="1523" cy="2525" rx="36" ry="24"/><text x="1523" y="2531">lo:0</text>
<ellipse cx="1638" cy="2525" rx="55" ry="24"/><text x="1638" y="2531">BVSUB</text>
<ellipse cx="1754.8" cy="2525" rx="36" ry="24"/><text x="1754.8" y="2531">hi:0</text>
<!-- r27 -->
<ellipse class="g" cx="1573" cy="2621" rx="51" ry="24"/><text x="1573" y="2627">Sym_A</text>
<ellipse class="g" cx="1702" cy="2621" rx="51" ry="24"/><text x="1702" y="2627">Sym_B</text>
</g>

<!-- watermark -->
<g opacity="0.6">
<text x="4038" y="2612" font-family="DejaVu Sans, sans-serif" font-size="64" text-anchor="middle" fill="#f4f4f4" stroke="#e4e4e4" stroke-width="1">❄</text>
<text x="4138" y="2610" font-family="'Noto Sans CJK SC', 'WenQuanYi Zen Hei', sans-serif" font-size="54" text-anchor="middle" fill="#f6f6f6" stroke="#e2e2e2" stroke-width="1">看雪</text>
</g>
</svg>
</body></html>
